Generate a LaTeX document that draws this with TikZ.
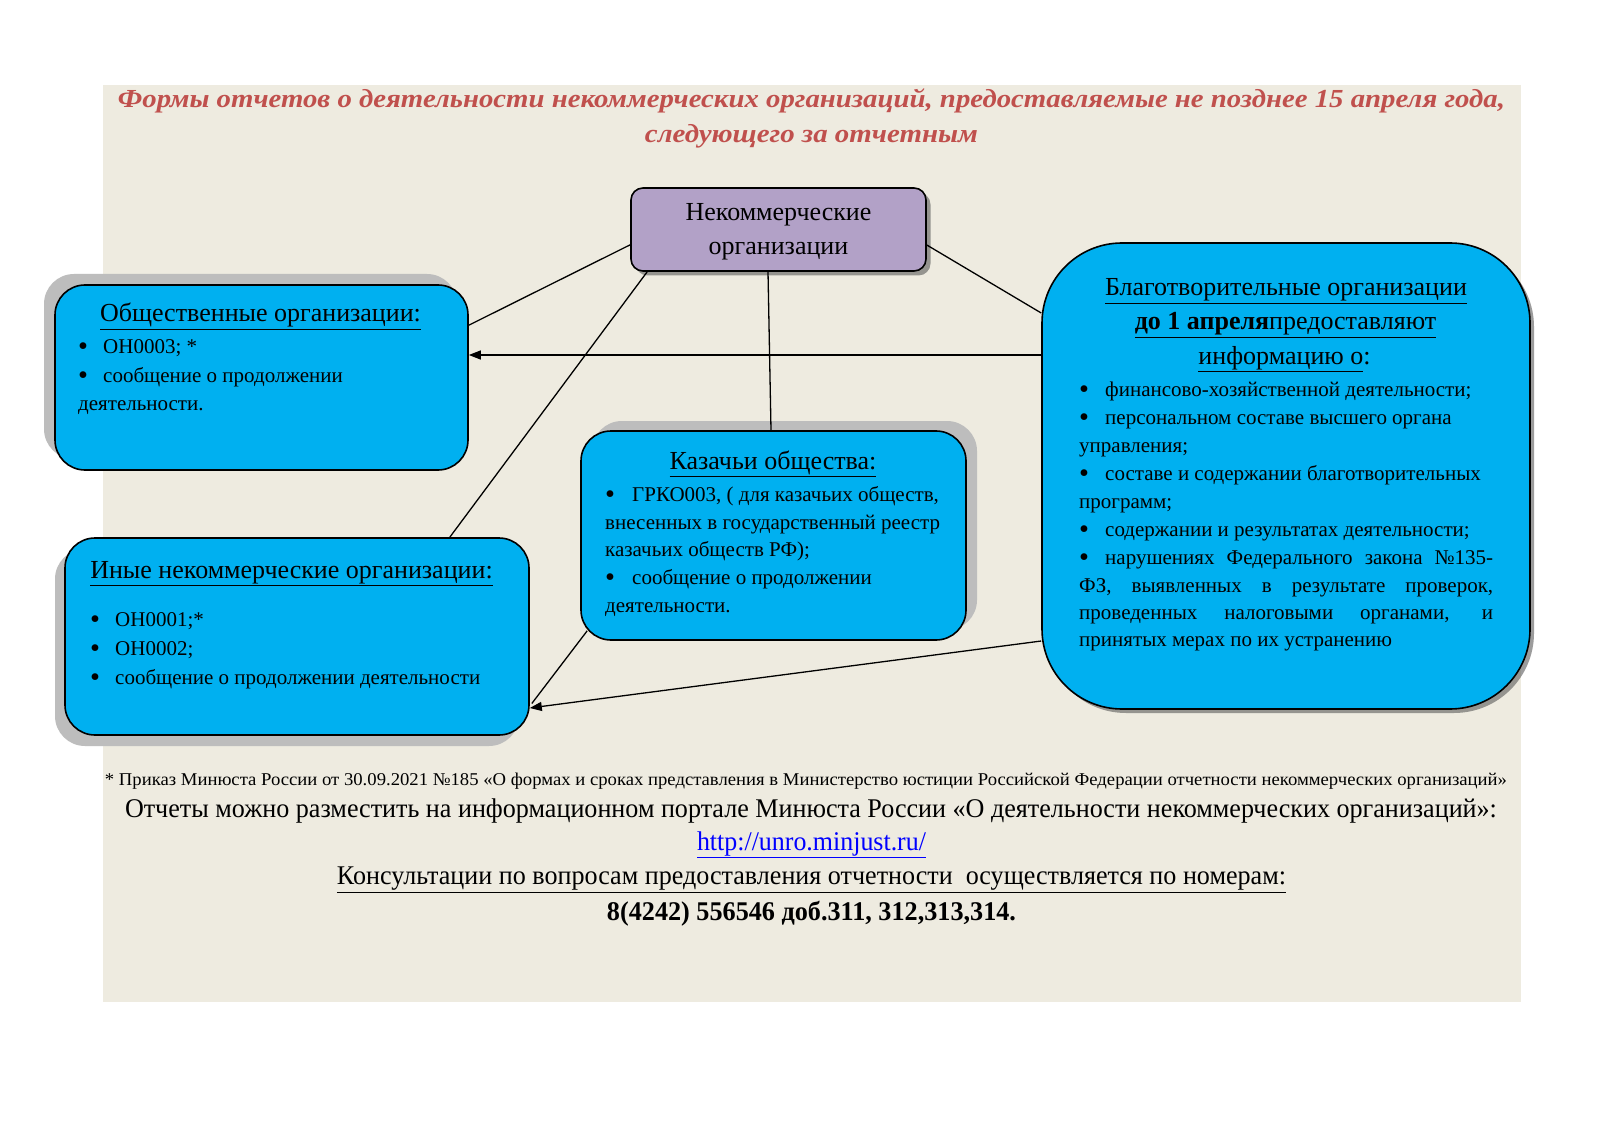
\documentclass[tikz,border=0pt]{standalone}
\usepackage{fontspec}
\setmainfont{Liberation Serif}
\usepackage{graphicx}
\usetikzlibrary{arrows.meta,calc}
\definecolor{bgbeige}{HTML}{EEEBE0}
\definecolor{boxblue}{HTML}{00B0F0}
\definecolor{lav}{HTML}{B2A1C7}
\definecolor{shgray}{HTML}{BDBDBD}
\definecolor{shdark}{HTML}{5A5A5A}
\definecolor{titlered}{HTML}{C0504D}
\definecolor{linkblue}{HTML}{0000FF}
\newcommand\bxf{\fontsize{21}{25}\selectfont}
\newcommand\hdf{\fontsize{26}{30}\selectfont}
\newcommand\sst{\rule[-5pt]{0pt}{20pt}}
\newcommand\bul[1]{\makebox[#1][l]{\raisebox{-2pt}{\scalebox{1.35}{•}}}}
\begin{document}
\begin{tikzpicture}[x=1pt,y=-1pt,
  card/.style={draw=black,line width=1.6pt,fill=boxblue,inner sep=0},
  lshadow/.style={fill=shgray,draw=none,inner sep=0},
  dshadow/.style={fill=shdark,draw=none,inner sep=0},
  tl/.style={anchor=west,inner sep=0,font=\bxf},
  hd/.style={anchor=center,inner sep=0,font=\hdf},
  conn/.style={line width=1.3pt,draw=black},
  arr/.style={conn,-{Triangle[length=12pt,width=9pt]}}
]
\useasboundingbox (0,0) rectangle (1600,1131);
\fill[white] (0,0) rectangle (1600,1131);
\fill[bgbeige] (103,85) rectangle (1521,1002);

% title
\node[inner sep=0,text=titlered,font=\fontsize{26}{28}\selectfont\bfseries\itshape] (ti1) at (811.5,101)
  {\resizebox{1387pt}{\height}{Формы отчетов о деятельности некоммерческих организаций, предоставляемые не позднее 15 апреля года,}};
\node[inner sep=0,text=titlered,font=\fontsize{26}{28}\selectfont\bfseries\itshape] (ti2) at (811.5,136)
  {\resizebox{333pt}{\height}{следующего за отчетным}};

% shadows
\node[lshadow,minimum width=413pt,minimum height=185pt,rounded corners=30pt] (obshS) at (250.5,366.5) {};
\node[lshadow,minimum width=385pt,minimum height=209pt,rounded corners=30pt] (kazS) at (784.5,525.5) {};
\node[lshadow,minimum width=464pt,minimum height=197pt,rounded corners=30pt] (inyeS) at (287,647.5) {};
\node[dshadow,minimum width=295pt,minimum height=83pt,rounded corners=12pt,opacity=0.6] (nkoS) at (783,234) {};
\node[dshadow,minimum width=488pt,minimum height=466pt,rounded corners=80pt,opacity=0.6] (blagoS) at (1290,480) {};

% boxes
\node[card,fill=lav,minimum width=295pt,minimum height=83pt,rounded corners=12pt] (nko) at (778.5,229.5) {};
\node[card,minimum width=413pt,minimum height=185pt,rounded corners=30pt] (obsh) at (261.5,377.5) {};
\node[card,minimum width=385pt,minimum height=209pt,rounded corners=30pt] (kaz) at (773.5,535.5) {};
\node[card,minimum width=464pt,minimum height=197pt,rounded corners=30pt] (inye) at (297,636.5) {};
\node[card,minimum width=488pt,minimum height=466pt,rounded corners=80pt] (blago) at (1286,476) {};

% connectors
\draw[conn] ($(nko.south west)+(0,-27)$) -- ($(obsh.north east)+(0,41)$);
\draw[conn] ($(nko.south west)+(17,0)$) -- ($(inye.north east)+(-80,0)$);
\draw[conn] ($(nko.south)+(-10.5,0)$) -- ($(kaz.north)+(-2.5,0)$);
\draw[conn] ($(nko.east)+(0,15.5)$) -- ($(blago.west)+(0,-163)$);
\draw[arr] ($(blago.west)+(0,-121)$) -- ($(obsh.east)+(0,-22.5)$);
\draw[arr] ($(blago.west)+(0,165)$) -- ($(inye.east)+(0,71.5)$);
\draw[conn] ($(kaz.south west)+(7,-10)$) -- ($(inye.east)+(2,67)$);

% centre box text
\node[hd] (n1) at (778.5,215) {\strut Некоммерческие};
\node[hd] (n2) at (778.5,249) {\strut организации};

% Obshchestvennye
\node[hd] (o0) at (260.5,316) {\strut\underline{Общественные организации:}};
\node[tl] (o1) at (78,348) {\sst\bul{25pt}ОН0003; *};
\node[tl] (o2) at (78,377) {\sst\bul{25pt}сообщение о продолжении};
\node[tl] (o3) at (78,405) {\sst деятельности.};

% Kazachi
\node[hd] (k0) at (773,463) {\strut\underline{Казачьи общества:}};
\node[tl] (k1) at (605,496) {\sst\bul{27pt}ГРКО003, ( для казачьих обществ,};
\node[tl] (k2) at (605,524) {\sst внесенных в государственный реестр};
\node[tl] (k3) at (605,551) {\sst казачьих обществ РФ);};
\node[tl] (k4) at (605,579) {\sst\bul{27pt}сообщение о продолжении};
\node[tl] (k5) at (605,607) {\sst деятельности.};

% Inye
\node[hd] (i0) at (291.5,572) {\strut\underline{Иные некоммерческие организации:}};
\node[tl] (i1) at (90,621) {\sst\bul{25pt}ОН0001;*};
\node[tl] (i2) at (90,650) {\sst\bul{25pt}ОН0002;};
\node[tl] (i3) at (90,679) {\sst\bul{25pt}сообщение о продолжении деятельности};

% Blagotvoritelnye
\node[hd] (b0) at (1286,290) {\strut\underline{Благотворительные организации}};
\node[hd] (b1) at (1285.5,324) {\strut\underline{\textbf{до 1 апреля}}\underline{предоставляют}};
\node[hd] (b2) at (1284.5,358) {\strut\underline{информацию о}:};
\node[tl] (b3) at (1079,391) {\sst\bul{26pt}финансово-хозяйственной деятельности;};
\node[tl] (b4) at (1079,419) {\sst\bul{26pt}персональном составе высшего органа};
\node[tl] (b5) at (1079,447) {\sst управления;};
\node[tl] (b6) at (1079,475) {\sst\bul{26pt}составе и содержании благотворительных};
\node[tl] (b7) at (1079,503) {\sst программ;};
\node[tl] (b8) at (1079,531) {\sst\bul{26pt}содержании и результатах деятельности;};
\node[tl] (b9) at (1079,559) {\sst\makebox[414pt][s]{\bul{26pt}нарушениях Федерального закона №135-}};
\node[tl] (b10) at (1079,587) {\sst\makebox[414pt][s]{ФЗ, выявленных в результате проверок,}};
\node[tl] (b11) at (1079,614) {\sst\makebox[414pt][s]{проведенных налоговыми органами, и}};
\node[tl] (b12) at (1079,641) {\sst принятых мерах по их устранению};

% footer
\node[inner sep=0,font=\fontsize{18}{20}\selectfont] (f1) at (806,781)
  {\resizebox{1402pt}{\height}{* Приказ Минюста России от 30.09.2021 №185 «О формах и сроках представления в Министерство юстиции Российской Федерации отчетности некоммерческих организаций»}};
\node[inner sep=0,font=\fontsize{27}{30}\selectfont] (f2) at (811,811)
  {\resizebox{1372pt}{\height}{Отчеты можно разместить на информационном портале Минюста России «О деятельности некоммерческих организаций»:}};
\node[inner sep=0,font=\fontsize{27}{30}\selectfont,text=linkblue] (f3) at (811.5,845)
  {\resizebox{229pt}{\height}{\underline{http://unro.minjust.ru/}}};
\node[inner sep=0,font=\fontsize{27}{30}\selectfont] (f4) at (811.5,880)
  {\resizebox{949pt}{\height}{\underline{Консультации по вопросам предоставления отчетности \ осуществляется по номерам:}}};
\node[inner sep=0,font=\fontsize{27}{30}\selectfont\bfseries] (f5) at (811.5,914)
  {\resizebox{409pt}{\height}{8(4242) 556546 доб.311, 312,313,314.}};
\end{tikzpicture}
\end{document}
